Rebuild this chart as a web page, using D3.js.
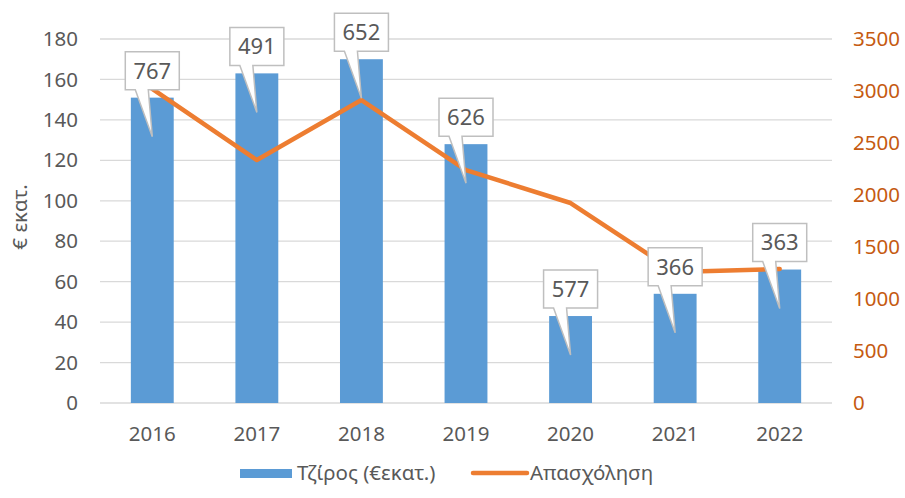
<!DOCTYPE html>
<html><head><meta charset="utf-8">
<script src="https://cdn.jsdelivr.net/npm/d3@7"></script>
<style>body{margin:0;background:#fff}svg{display:block;font-family:"Noto Sans",sans-serif}</style>
</head><body><svg id="c" width="905" height="498"></svg>
<script>
const years = ["2016","2017","2018","2019","2020","2021","2022"];
const turnover = [151, 163, 170, 128, 43, 54, 66];
const employment = [3020, 2336, 2913, 2240, 1923, 1260, 1288];
const callouts = ["767","491","652","626","577","366","363"];
const leftTicks = [0,20,40,60,80,100,120,140,160,180];
const rightTicks = [0,500,1000,1500,2000,2500,3000,3500];

const FS = 20.5;
const svg = d3.select("#c");
const L = 100, R = 832, T = 39, B = 403;
const x = d3.scaleBand().domain(years).range([L, R]).paddingInner(0.59).paddingOuter(0.295);
const xc = d3.scaleBand().domain(years).range([L, R]);
const yL = d3.scaleLinear().domain([0,180]).range([B, T]);
const yR = d3.scaleLinear().domain([0,3500]).range([B, T]);

// gridlines
svg.append("g").selectAll("line").data(leftTicks).join("line")
  .attr("x1", L).attr("x2", R).attr("y1", d=>yL(d)).attr("y2", d=>yL(d))
  .attr("stroke", "#D9D9D9").attr("stroke-width", 1.3);

// left axis
const gl = svg.append("g").attr("transform", `translate(${L-22},0)`)
  .call(d3.axisLeft(yL).tickValues(leftTicks).tickSize(0).tickPadding(0));
gl.select(".domain").remove();
gl.selectAll("text").attr("font-size", FS).attr("fill", "#595959").attr("font-family","Noto Sans");

// right axis
const gr = svg.append("g").attr("transform", `translate(${R+21},0)`)
  .call(d3.axisRight(yR).tickValues(rightTicks).tickFormat(d3.format("d")).tickSize(0).tickPadding(0));
gr.select(".domain").remove();
gr.selectAll("text").attr("font-size", FS).attr("fill", "#C55A11").attr("font-family","Noto Sans");

// x axis
const gx = svg.append("g").attr("transform", `translate(0,${B+23})`)
  .call(d3.axisBottom(xc).tickSize(0).tickPadding(0));
gx.select(".domain").remove();
gx.selectAll("text").attr("font-size", FS).attr("fill", "#595959").attr("font-family","Noto Sans").attr("dy","0.71em");

// axis title
svg.append("text").attr("transform", `translate(27,217) rotate(-90)`)
  .attr("text-anchor","middle").attr("font-size",FS).attr("fill","#595959").text("€ εκατ.");

// bars
svg.append("g").selectAll("rect").data(years).join("rect")
  .attr("x", d=>x(d)).attr("width", x.bandwidth())
  .attr("y", (d,i)=>yL(turnover[i])).attr("height", (d,i)=>B - yL(turnover[i]))
  .attr("fill", "#5B9BD5");

// line
const line = d3.line().x((d,i)=>xc(years[i]) + xc.bandwidth()/2).y(d=>yR(d));
svg.append("path").datum(employment).attr("d", line)
  .attr("fill","none").attr("stroke","#ED7D31").attr("stroke-width",4.5)
  .attr("stroke-linejoin","round").attr("stroke-linecap","round");

// callouts
const cg = svg.append("g");
years.forEach((yr,i)=>{
  const cx = xc(yr) + xc.bandwidth()/2;
  const top = yL(turnover[i]);
  const tipY = top + 39;
  const bb = top - 8, bt = bb - 38;
  const bl = cx - 27, br = cx + 27;
  const p = `M${bl},${bt} L${br},${bt} L${br},${bb} L${cx-4},${bb} L${cx},${tipY} L${cx-17},${bb} L${bl},${bb} Z`;
  cg.append("path").attr("d", p).attr("fill","#fff").attr("stroke","#BFBFBF").attr("stroke-width",1.5)
    .attr("stroke-linejoin","miter");
  cg.append("text").attr("x", cx).attr("y", (bt+bb)/2).attr("dy","0.36em")
    .attr("text-anchor","middle").attr("font-size",22).attr("fill","#595959").text(callouts[i]);
});

// legend
const lg = svg.append("g");
lg.append("rect").attr("x",240).attr("y",469).attr("width",52).attr("height",9).attr("fill","#5B9BD5");
lg.append("text").attr("x",297).attr("y",473).attr("dy","0.36em").attr("font-size",FS).attr("fill","#595959").text("Τζίρος (€εκατ.)");
lg.append("line").attr("x1",473).attr("x2",527).attr("y1",473).attr("y2",473).attr("stroke","#ED7D31").attr("stroke-width",4.5).attr("stroke-linecap","round");
lg.append("text").attr("x",530).attr("y",473).attr("dy","0.36em").attr("font-size",FS).attr("fill","#595959").text("Απασχόληση");
</script></body></html>
